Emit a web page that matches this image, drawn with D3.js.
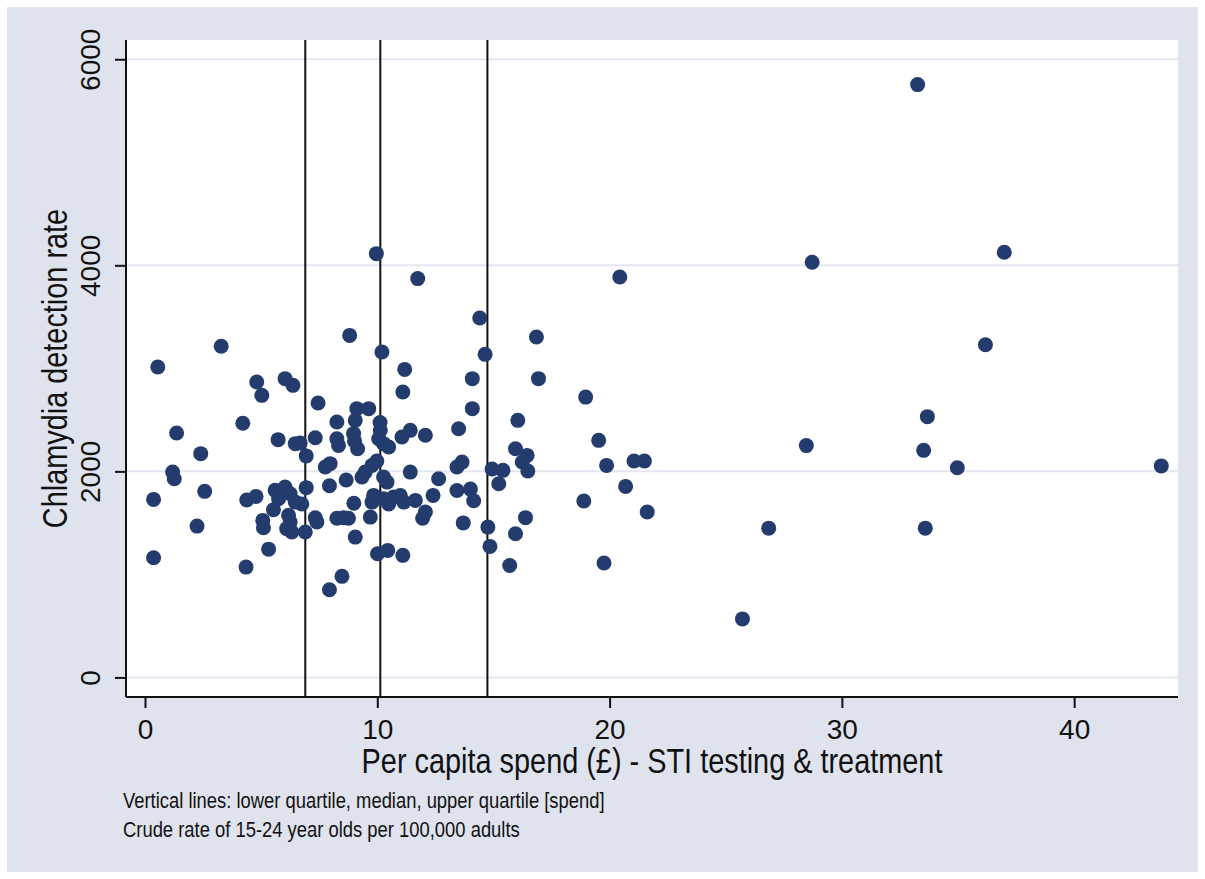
<!DOCTYPE html>
<html lang="en">
<head>
    <meta charset="UTF-8">
    <script src="https://d3js.org/d3.v7.min.js"></script>
    <style>
        body { margin: 0; background: #fff; }
        svg { display: block; }
    </style>
</head>
<body>
    <div id="chart"></div>

    <script>
        // per capita spend (£) on STI testing & treatment, and chlamydia detection rate
        var spend = [
            0.37, 0.37, 0.55, 1.19, 1.26, 1.36, 2.24, 2.40, 2.57, 3.28,
            4.21, 4.35, 4.38, 4.78, 4.81, 5.03, 5.07, 5.10, 5.32, 5.53,
            5.60, 5.75, 5.73, 6.03, 6.03, 6.25, 6.37, 6.18, 6.25, 6.10,
            6.32, 6.47, 6.47, 6.68, 6.75, 6.90, 6.94, 6.94, 7.33, 7.45,
            7.33, 7.40, 7.94, 7.97, 7.76, 7.94, 8.26, 8.26, 8.33, 8.26,
            8.55, 8.76, 8.48, 8.66, 8.81, 9.12, 9.63, 9.05, 8.98, 9.02,
            9.15, 9.98, 9.77, 9.48, 9.34, 8.99, 9.05, 9.70, 9.96, 10.20,
            10.12, 10.13, 10.06, 10.27, 10.49, 10.27, 10.42, 9.84, 9.77, 9.98,
            10.27, 10.70, 10.99, 11.14, 10.49, 10.01, 10.45, 11.10, 11.74, 11.18,
            11.10, 11.06, 11.42, 12.07, 11.42, 11.64, 12.07, 11.95, 12.40, 12.64,
            13.50, 13.43, 13.65, 13.43, 14.01, 14.15, 13.70, 14.09, 14.09, 14.41,
            14.64, 14.76, 14.85, 14.94, 15.41, 15.23, 15.70, 15.95, 16.38, 16.05,
            15.95, 16.45, 16.24, 16.48, 16.85, 16.94, 18.97, 18.89, 19.53, 19.87,
            19.76, 20.44, 20.69, 21.05, 21.50, 21.62, 33.26, 36.99, 28.72, 36.18,
            33.68, 28.47, 33.52, 34.97, 43.75, 26.85, 33.59, 25.72
        ];
        var detectionRate = [
            1728, 1162, 3013, 1993, 1929, 2372, 1469, 2172, 1806, 3214,
            2467, 1071, 1722, 1757, 2867, 2738, 1524, 1453, 1245, 1628,
            1816, 1734, 2308, 1848, 2900, 1783, 2835, 1573, 1508, 1444,
            1411, 1702, 2269, 2275, 1684, 1411, 1842, 2150, 2327, 2663,
            1550, 1508, 1860, 2075, 2042, 851, 2479, 2317, 2252, 1545,
            1551, 1545, 981, 1916, 3320, 2609, 2609, 2495, 2366, 2295,
            2220, 2100, 2058, 1993, 1945, 1690, 1362, 1556, 4113, 3158,
            2475, 2398, 2317, 2269, 2236, 1945, 1896, 1767, 1702, 1734,
            1734, 1751, 1767, 1702, 1684, 1201, 1233, 1185, 3871, 2990,
            2770, 2333, 2398, 2350, 1993, 1718, 1605, 1545, 1767, 1929,
            2414, 2042, 2090, 1815, 1828, 1715, 1500, 2900, 2609, 3489,
            3136, 1459, 1272, 2023, 2010, 1880, 1087, 1395, 1551, 2495,
            2220, 2155, 2091, 2003, 3304, 2900, 2721, 1712, 2301, 2058,
            1110, 3887, 1854, 2100, 2100, 1605, 5754, 4127, 4030, 3229,
            2531, 2250, 2204, 2035, 2053, 1449, 1449, 568
        ];
        var quartiles = [6.9, 10.13, 14.74];   // lower quartile, median, upper quartile
        var xTicks = [0, 10, 20, 30, 40];
        var yTicks = [0, 2000, 4000, 6000];
        var xTitle = "Per capita spend (£) - STI testing & treatment";
        var yTitle = "Chlamydia detection rate";
        var notes = [
            "Vertical lines: lower quartile, median, upper quartile [spend]",
            "Crude rate of 15-24 year olds per 100,000 adults"
        ];

        var W = 1205, H = 879;
        var plot = { left: 126, right: 1178, top: 40, bottom: 697 };
        var font = "'Liberation Sans', Arial, sans-serif";
        var squeeze = 0.825;   // stata draws the titles with a narrow face

        var points = spend.map(function (s, i) { return { x: s, y: detectionRate[i] }; });

        var svg = d3.select("#chart").append("svg")
            .attr("width", W)
            .attr("height", H);

        svg.append("rect").attr("width", W).attr("height", H).attr("fill", "#ffffff");
        svg.append("rect")
            .attr("x", 7).attr("y", 7)
            .attr("width", W - 14).attr("height", H - 14)
            .attr("fill", "#dfe3ee");
        svg.append("rect")
            .attr("x", plot.left).attr("y", plot.top)
            .attr("width", plot.right - plot.left)
            .attr("height", plot.bottom - plot.top)
            .attr("fill", "#ffffff");

        var x = d3.scaleLinear()
            .domain([-0.818, 44.47])
            .range([plot.left, plot.right]);

        var y = d3.scaleLinear()
            .domain([-190, 6187])
            .range([plot.bottom, plot.top]);

        // gridlines
        svg.append("g")
            .selectAll("line")
            .data(yTicks)
            .enter().append("line")
            .attr("x1", plot.left).attr("x2", plot.right)
            .attr("y1", function (d) { return y(d); })
            .attr("y2", function (d) { return y(d); })
            .attr("stroke", "#e3e7f2")
            .attr("stroke-width", 2);

        // quartile lines
        svg.append("g")
            .selectAll("line")
            .data(quartiles)
            .enter().append("line")
            .attr("x1", function (d) { return x(d); })
            .attr("x2", function (d) { return x(d); })
            .attr("y1", plot.top).attr("y2", plot.bottom)
            .attr("stroke", "#111")
            .attr("stroke-width", 2);

        // axes
        var xAxis = svg.append("g")
            .attr("transform", "translate(0," + plot.bottom + ")")
            .call(d3.axisBottom(x).tickValues(xTicks).tickSize(11).tickPadding(11).tickFormat(d3.format("d")));
        xAxis.select(".domain").attr("stroke", "#111").attr("stroke-width", 2)
            .attr("d", "M" + plot.left + ",0H" + plot.right);
        xAxis.selectAll(".tick line").attr("stroke", "#111").attr("stroke-width", 2);
        xAxis.selectAll(".tick text")
            .attr("font-family", font)
            .attr("font-size", 28)
            .attr("fill", "#111");

        var yAxis = svg.append("g")
            .attr("transform", "translate(" + plot.left + ",0)")
            .call(d3.axisLeft(y).tickValues(yTicks).tickSize(11).tickFormat(d3.format("d")));
        yAxis.select(".domain").attr("stroke", "#111").attr("stroke-width", 2)
            .attr("d", "M0," + plot.top + "V" + plot.bottom);
        yAxis.selectAll(".tick line").attr("stroke", "#111").attr("stroke-width", 2);
        yAxis.selectAll(".tick text")
            .attr("x", null).attr("dy", null)
            .attr("transform", "translate(-26,0) rotate(-90)")
            .attr("text-anchor", "middle")
            .attr("font-family", font)
            .attr("font-size", 28)
            .attr("fill", "#111");

        // markers
        svg.append("g")
            .selectAll("circle")
            .data(points)
            .enter().append("circle")
            .attr("cx", function (d) { return x(d.x); })
            .attr("cy", function (d) { return y(d.y); })
            .attr("r", 7.5)
            .attr("fill", "#233c6d");

        // titles
        svg.append("text")
            .attr("transform", "translate(" + ((plot.left + plot.right) / 2) + ",773) scale(" + squeeze + ",1)")
            .attr("text-anchor", "middle")
            .attr("font-family", font)
            .attr("font-size", 35)
            .attr("fill", "#111")
            .text(xTitle);

        svg.append("text")
            .attr("transform", "translate(67," + ((plot.top + plot.bottom) / 2) + ") rotate(-90) scale(" + squeeze + ",1)")
            .attr("text-anchor", "middle")
            .attr("font-family", font)
            .attr("font-size", 35)
            .attr("fill", "#111")
            .text(yTitle);

        svg.append("g")
            .selectAll("text")
            .data(notes)
            .enter().append("text")
            .attr("transform", function (d, i) {
                return "translate(123," + (808 + i * 28.5) + ") scale(" + squeeze + ",1)";
            })
            .attr("font-family", font)
            .attr("font-size", 22.3)
            .attr("fill", "#111")
            .text(function (d) { return d; });
    </script>
</body>
</html>
